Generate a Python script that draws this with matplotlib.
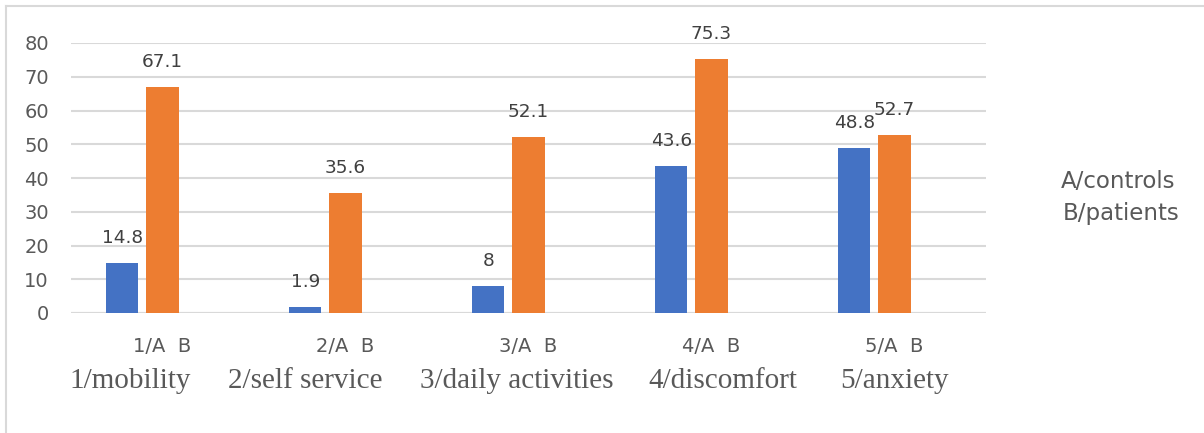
import matplotlib
matplotlib.use("Agg")
import matplotlib.pyplot as plt
from matplotlib.lines import Line2D
import numpy as np

# Group tick labels, category captions and series values
tick_labels = ["1/A  B", "2/A  B", "3/A  B", "4/A  B", "5/A  B"]
categories = ["1/mobility", "2/self service", "3/daily activities", "4/discomfort", "5/anxiety"]
controls = [14.8, 1.9, 8, 43.6, 48.8]     # A
patients = [67.1, 35.6, 52.1, 75.3, 52.7]  # B
legend_lines = ["A/controls", "B/patients"]

BLUE = "#4472C4"
ORANGE = "#ED7D31"
GRID = "#D9D9D9"
TEXT = "#595959"
LABEL = "#404040"

fig = plt.figure(figsize=(12.04, 4.33), dpi=100)
ax = fig.add_axes([71 / 1204, 1 - 313 / 433, 915 / 1204, 270 / 433])

x = np.arange(len(tick_labels))
width = 0.175
b1 = ax.bar(x - 0.219, controls, width, color=BLUE, zorder=3)
b2 = ax.bar(x, patients, width, color=ORANGE, zorder=3)

for bars, vals in ((b1, controls), (b2, patients)):
    for rect, v in zip(bars, vals):
        ax.annotate(f"{v:g}", (rect.get_x() + rect.get_width() / 2, v),
                    xytext=(0, 18), textcoords="offset points",
                    ha="center", va="center", fontsize=13.3, color=LABEL,
                    family="DejaVu Sans", zorder=4)

ax.set_xlim(-0.5, len(tick_labels) - 0.5)
ax.set_ylim(0, 80)
ax.set_yticks(np.arange(0, 81, 10))
ax.yaxis.grid(True, color=GRID, linewidth=1.5, zorder=0)
ax.set_xticks(x)
ax.set_xticklabels(tick_labels)
ax.tick_params(axis="both", length=0, labelsize=14, labelcolor=TEXT)
ax.tick_params(axis="y", pad=16)
ax.tick_params(axis="x", pad=17)
for s in ax.spines.values():
    s.set_visible(False)
ax.axhline(0, color=GRID, linewidth=1.5, zorder=2)

# Caption row beneath the tick labels
caption_x = [-0.175, 0.78, 1.935, 3.063, 4.001]
caption_y = -(388 - 313) / 270
for cx, name in zip(caption_x, categories):
    ax.text(cx, caption_y, name, transform=ax.get_xaxis_transform(), ha="center",
            va="baseline", fontsize=21, family="Liberation Serif", color=TEXT)

# Series key on the right
fig.text(1118 / 1204, 1 - 181 / 433, legend_lines[0], ha="center", va="center",
         fontsize=16.5, color=TEXT, family="DejaVu Sans")
fig.text(1121 / 1204, 1 - 213 / 433, legend_lines[1], ha="center", va="center",
         fontsize=16.5, color=TEXT, family="DejaVu Sans")

# Chart frame
fig.add_artist(Line2D([6 / 1204, 1], [1 - 6 / 433, 1 - 6 / 433], color=GRID, linewidth=1.5))
fig.add_artist(Line2D([6 / 1204, 6 / 1204], [0, 1 - 6 / 433], color=GRID, linewidth=1.5))

fig.savefig("out.png", dpi=100)
